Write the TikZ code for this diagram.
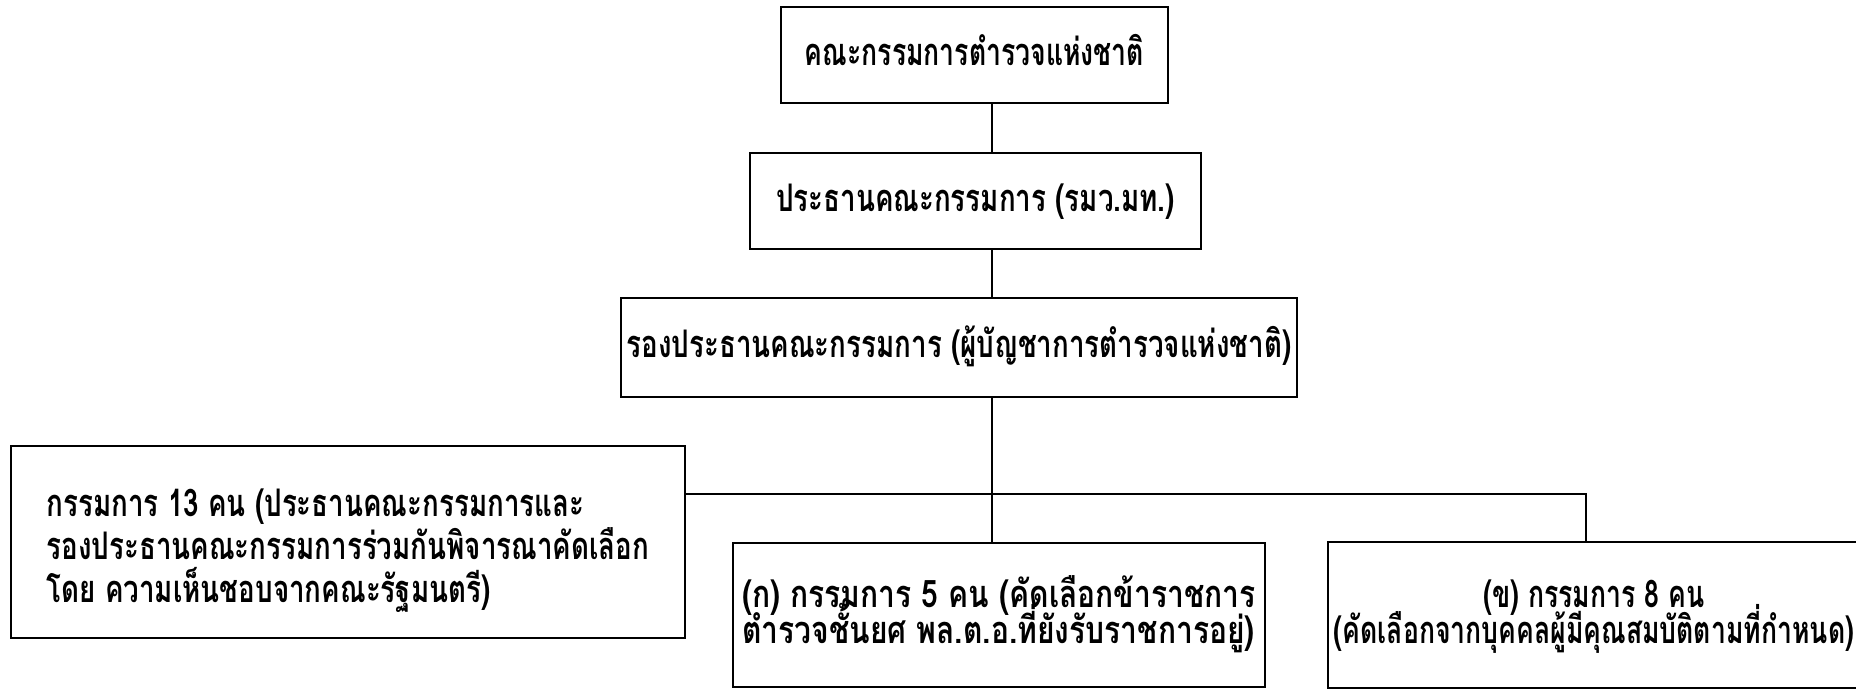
\documentclass[tikz,border=0pt]{standalone}
\usepackage{fontspec}
\newfontfamily\thaifont[Script=Thai,FakeStretch=0.73]{Loma}
\newfontfamily\thaiwide[Script=Thai,FakeStretch=0.79]{Loma}
\newfontfamily\thainarrow[Script=Thai,FakeStretch=0.7]{Loma}
\newcommand\tightlines{\lineskiplimit-20pt\relax}
\usetikzlibrary{calc}

\begin{document}
\begin{tikzpicture}
  [
    x=0.25pt, y=-0.25pt, line width=0.45pt,
    block/.style =
      {draw, rectangle, align=center, inner sep=0pt, outer sep=0pt,
       text height=5.5pt, text depth=0.5pt,
       font=\thaifont\bfseries\fontsize{9.5}{9.5}\selectfont},
    member/.style =
      {draw, rectangle, align=left, inner sep=0pt, outer sep=0pt,
       font=\thaifont\bfseries\fontsize{9.5}{9}\selectfont\tightlines}
  ]
  \useasboundingbox (0,0) rectangle (1856,690);
  \clip (0,0) rectangle (1856,690);

  \node [block, font=\thainarrow\bfseries\fontsize{9.5}{9.5}\selectfont,
         minimum width=96.75pt, minimum height=24pt] at (974.5,55) (board) {คณะกรรมการตำรวจแห่งชาติ};
  \node [block, minimum width=112.75pt, minimum height=24pt] at (975.5,201) (chair) {ประธานคณะกรรมการ (รมว.มท.)};
  \node [block, minimum width=169pt, minimum height=24.75pt] at (959,347.5) (vice) {รองประธานคณะกรรมการ (ผู้บัญชาการตำรวจแห่งชาติ)};
  \node [member, font=\thaifont\bfseries\fontsize{9.5}{10.75}\selectfont\tightlines,
         minimum width=168.5pt, minimum height=48pt] at (348,542) (all)
    {\rule{0pt}{11.5pt}กรรมการ 13 คน (ประธานคณะกรรมการและ\\
     รองประธานคณะกรรมการร่วมกันพิจารณาคัดเลือก\\
     โดย ความเห็นชอบจากคณะรัฐมนตรี)\rule[-3pt]{0pt}{3pt}};
  \node [member, font=\thaiwide\bfseries\fontsize{9.5}{9}\selectfont\tightlines,
         minimum width=133pt, minimum height=36pt] at (999,615) (ko)
    {\rule{0pt}{11pt}(ก) กรรมการ 5 คน (คัดเลือกข้าราชการ\\
     ตำรวจชั้นยศ พล.ต.อ.ที่ยังรับราชการอยู่)\rule[-6pt]{0pt}{6pt}};
  \node [member, font=\thainarrow\bfseries\fontsize{9.5}{9}\selectfont\tightlines,
         align=center, minimum width=133pt, minimum height=36.5pt] at (1594,615) (kho)
    {\rule{0pt}{11pt}(ข) กรรมการ 8 คน\\
     (คัดเลือกจากบุคคลผู้มีคุณสมบัติตามที่กำหนด)\rule[-6pt]{0pt}{6pt}};

  \coordinate (trunk) at (992,494);

  \draw (board.south -| trunk) -- (chair.north -| trunk);
  \draw (chair.south -| trunk) -- (vice.north -| trunk);
  \draw (vice.south -| trunk)  -- (ko.north -| trunk);
  \draw (all.east |- trunk)    -| ($(kho.north)+(-8,0)$);

\end{tikzpicture}
\end{document}
